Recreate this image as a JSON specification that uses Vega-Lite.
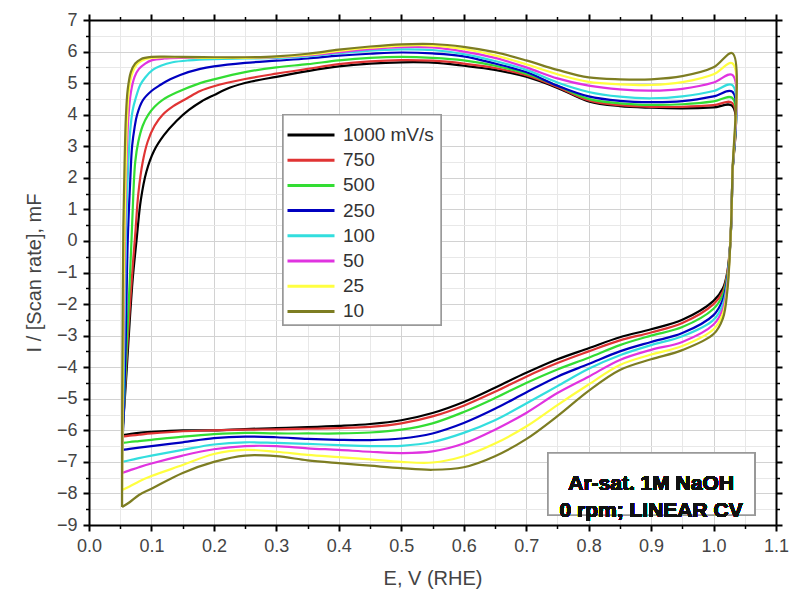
{
"$schema":"https://vega.github.io/schema/vega-lite/v6.json",
"width":687,"height":505,
"autosize":{"type":"none"},
"padding":{"left":89,"top":20,"right":16,"bottom":78},
"background":"white",
"config":{"view":{"stroke":null},"font":"Liberation Sans",
"legend":{"orient":"none","legendX":197,"legendY":107,"symbolType":"stroke","symbolSize":2209,"symbolStrokeWidth":3,"clipHeight":16,"rowPadding":6.2,"labelFontSize":19,"labelFont":"Liberation Sans","labelColor":"#333","labelOffset":7,"padding":0,"title":null}},
"datasets":{"cv":[
{"s":"1000 mV/s","E":0.053,"I":-6.15},{"s":"1000 mV/s","E":0.056,"I":-5.4},{"s":"1000 mV/s","E":0.06,"I":-4.2},{"s":"1000 mV/s","E":0.065,"I":-2.6},{"s":"1000 mV/s","E":0.07,"I":-1.2},{"s":"1000 mV/s","E":0.076,"I":0},{"s":"1000 mV/s","E":0.083,"I":1.3},{"s":"1000 mV/s","E":0.092,"I":2.2},{"s":"1000 mV/s","E":0.104,"I":2.85},{"s":"1000 mV/s","E":0.12,"I":3.35},{"s":"1000 mV/s","E":0.14,"I":3.8},{"s":"1000 mV/s","E":0.16,"I":4.15},{"s":"1000 mV/s","E":0.18,"I":4.42},{"s":"1000 mV/s","E":0.2,"I":4.62},{"s":"1000 mV/s","E":0.226,"I":4.86},{"s":"1000 mV/s","E":0.26,"I":5.05},{"s":"1000 mV/s","E":0.3,"I":5.2},{"s":"1000 mV/s","E":0.35,"I":5.38},{"s":"1000 mV/s","E":0.4,"I":5.53},{"s":"1000 mV/s","E":0.45,"I":5.62},{"s":"1000 mV/s","E":0.5,"I":5.66},{"s":"1000 mV/s","E":0.55,"I":5.65},{"s":"1000 mV/s","E":0.6,"I":5.55},{"s":"1000 mV/s","E":0.65,"I":5.42},{"s":"1000 mV/s","E":0.7,"I":5.2},{"s":"1000 mV/s","E":0.75,"I":4.85},{"s":"1000 mV/s","E":0.8,"I":4.42},{"s":"1000 mV/s","E":0.85,"I":4.27},{"s":"1000 mV/s","E":0.9,"I":4.22},{"s":"1000 mV/s","E":0.95,"I":4.2},{"s":"1000 mV/s","E":1.0,"I":4.23},{"s":"1000 mV/s","E":1.03,"I":4.28},{"s":"1000 mV/s","E":1.03,"I":2.0},{"s":"1000 mV/s","E":1.027,"I":0},{"s":"1000 mV/s","E":1.022,"I":-1.0},{"s":"1000 mV/s","E":1.015,"I":-1.5},{"s":"1000 mV/s","E":1.0,"I":-1.9},{"s":"1000 mV/s","E":0.95,"I":-2.5},{"s":"1000 mV/s","E":0.9,"I":-2.8},{"s":"1000 mV/s","E":0.85,"I":-3.05},{"s":"1000 mV/s","E":0.8,"I":-3.4},{"s":"1000 mV/s","E":0.75,"I":-3.75},{"s":"1000 mV/s","E":0.7,"I":-4.18},{"s":"1000 mV/s","E":0.65,"I":-4.65},{"s":"1000 mV/s","E":0.6,"I":-5.1},{"s":"1000 mV/s","E":0.55,"I":-5.45},{"s":"1000 mV/s","E":0.5,"I":-5.68},{"s":"1000 mV/s","E":0.45,"I":-5.8},{"s":"1000 mV/s","E":0.4,"I":-5.86},{"s":"1000 mV/s","E":0.35,"I":-5.9},{"s":"1000 mV/s","E":0.3,"I":-5.93},{"s":"1000 mV/s","E":0.25,"I":-5.96},{"s":"1000 mV/s","E":0.2,"I":-6.0},{"s":"1000 mV/s","E":0.15,"I":-6.0},{"s":"1000 mV/s","E":0.1,"I":-6.05},{"s":"1000 mV/s","E":0.08,"I":-6.08},{"s":"1000 mV/s","E":0.065,"I":-6.12},{"s":"1000 mV/s","E":0.053,"I":-6.15},
{"s":"750","E":0.053,"I":-6.2},{"s":"750","E":0.056,"I":-5.3},{"s":"750","E":0.06,"I":-3.8},{"s":"750","E":0.065,"I":-2.2},{"s":"750","E":0.07,"I":-0.8},{"s":"750","E":0.074,"I":0.2},{"s":"750","E":0.079,"I":1.5},{"s":"750","E":0.086,"I":2.5},{"s":"750","E":0.094,"I":3.15},{"s":"750","E":0.105,"I":3.65},{"s":"750","E":0.118,"I":4.0},{"s":"750","E":0.135,"I":4.27},{"s":"750","E":0.157,"I":4.52},{"s":"750","E":0.178,"I":4.75},{"s":"750","E":0.2,"I":4.9},{"s":"750","E":0.25,"I":5.13},{"s":"750","E":0.3,"I":5.3},{"s":"750","E":0.35,"I":5.45},{"s":"750","E":0.4,"I":5.6},{"s":"750","E":0.45,"I":5.69},{"s":"750","E":0.5,"I":5.73},{"s":"750","E":0.55,"I":5.71},{"s":"750","E":0.6,"I":5.62},{"s":"750","E":0.65,"I":5.48},{"s":"750","E":0.7,"I":5.25},{"s":"750","E":0.75,"I":4.88},{"s":"750","E":0.8,"I":4.45},{"s":"750","E":0.85,"I":4.3},{"s":"750","E":0.9,"I":4.25},{"s":"750","E":0.95,"I":4.25},{"s":"750","E":1.0,"I":4.3},{"s":"750","E":1.03,"I":4.37},{"s":"750","E":1.03,"I":2.0},{"s":"750","E":1.027,"I":0},{"s":"750","E":1.022,"I":-1.0},{"s":"750","E":1.015,"I":-1.6},{"s":"750","E":1.0,"I":-2.0},{"s":"750","E":0.95,"I":-2.6},{"s":"750","E":0.9,"I":-2.9},{"s":"750","E":0.85,"I":-3.15},{"s":"750","E":0.8,"I":-3.5},{"s":"750","E":0.75,"I":-3.87},{"s":"750","E":0.7,"I":-4.3},{"s":"750","E":0.65,"I":-4.78},{"s":"750","E":0.6,"I":-5.22},{"s":"750","E":0.55,"I":-5.56},{"s":"750","E":0.5,"I":-5.78},{"s":"750","E":0.45,"I":-5.89},{"s":"750","E":0.4,"I":-5.93},{"s":"750","E":0.35,"I":-5.95},{"s":"750","E":0.3,"I":-5.97},{"s":"750","E":0.25,"I":-5.98},{"s":"750","E":0.2,"I":-6.0},{"s":"750","E":0.15,"I":-6.03},{"s":"750","E":0.1,"I":-6.1},{"s":"750","E":0.08,"I":-6.14},{"s":"750","E":0.065,"I":-6.17},{"s":"750","E":0.053,"I":-6.2},
{"s":"500","E":0.053,"I":-6.4},{"s":"500","E":0.056,"I":-5.3},{"s":"500","E":0.06,"I":-3.5},{"s":"500","E":0.064,"I":-1.8},{"s":"500","E":0.068,"I":0},{"s":"500","E":0.071,"I":1.5},{"s":"500","E":0.074,"I":2.5},{"s":"500","E":0.079,"I":3.15},{"s":"500","E":0.086,"I":3.65},{"s":"500","E":0.095,"I":4.0},{"s":"500","E":0.105,"I":4.25},{"s":"500","E":0.118,"I":4.47},{"s":"500","E":0.14,"I":4.7},{"s":"500","E":0.178,"I":5.0},{"s":"500","E":0.2,"I":5.12},{"s":"500","E":0.25,"I":5.35},{"s":"500","E":0.3,"I":5.5},{"s":"500","E":0.35,"I":5.6},{"s":"500","E":0.4,"I":5.72},{"s":"500","E":0.45,"I":5.8},{"s":"500","E":0.5,"I":5.83},{"s":"500","E":0.55,"I":5.8},{"s":"500","E":0.6,"I":5.72},{"s":"500","E":0.65,"I":5.55},{"s":"500","E":0.7,"I":5.3},{"s":"500","E":0.75,"I":4.92},{"s":"500","E":0.8,"I":4.5},{"s":"500","E":0.85,"I":4.36},{"s":"500","E":0.9,"I":4.31},{"s":"500","E":0.95,"I":4.33},{"s":"500","E":1.0,"I":4.42},{"s":"500","E":1.03,"I":4.53},{"s":"500","E":1.03,"I":2.0},{"s":"500","E":1.027,"I":0},{"s":"500","E":1.022,"I":-1.1},{"s":"500","E":1.015,"I":-1.7},{"s":"500","E":1.0,"I":-2.15},{"s":"500","E":0.95,"I":-2.73},{"s":"500","E":0.9,"I":-3.0},{"s":"500","E":0.85,"I":-3.3},{"s":"500","E":0.8,"I":-3.7},{"s":"500","E":0.75,"I":-4.07},{"s":"500","E":0.7,"I":-4.5},{"s":"500","E":0.65,"I":-4.98},{"s":"500","E":0.6,"I":-5.42},{"s":"500","E":0.55,"I":-5.78},{"s":"500","E":0.5,"I":-5.98},{"s":"500","E":0.45,"I":-6.07},{"s":"500","E":0.4,"I":-6.1},{"s":"500","E":0.35,"I":-6.1},{"s":"500","E":0.3,"I":-6.1},{"s":"500","E":0.25,"I":-6.08},{"s":"500","E":0.2,"I":-6.12},{"s":"500","E":0.15,"I":-6.2},{"s":"500","E":0.1,"I":-6.3},{"s":"500","E":0.08,"I":-6.34},{"s":"500","E":0.065,"I":-6.37},{"s":"500","E":0.053,"I":-6.4},
{"s":"250","E":0.053,"I":-6.62},{"s":"250","E":0.056,"I":-5.3},{"s":"250","E":0.059,"I":-3.0},{"s":"250","E":0.062,"I":0},{"s":"250","E":0.066,"I":1.9},{"s":"250","E":0.069,"I":3.0},{"s":"250","E":0.073,"I":3.6},{"s":"250","E":0.077,"I":4.0},{"s":"250","E":0.086,"I":4.45},{"s":"250","E":0.1,"I":4.75},{"s":"250","E":0.114,"I":4.94},{"s":"250","E":0.13,"I":5.12},{"s":"250","E":0.146,"I":5.26},{"s":"250","E":0.178,"I":5.45},{"s":"250","E":0.2,"I":5.53},{"s":"250","E":0.25,"I":5.64},{"s":"250","E":0.3,"I":5.71},{"s":"250","E":0.35,"I":5.78},{"s":"250","E":0.4,"I":5.87},{"s":"250","E":0.45,"I":5.93},{"s":"250","E":0.5,"I":5.97},{"s":"250","E":0.55,"I":5.94},{"s":"250","E":0.6,"I":5.85},{"s":"250","E":0.65,"I":5.62},{"s":"250","E":0.7,"I":5.35},{"s":"250","E":0.75,"I":4.92},{"s":"250","E":0.8,"I":4.58},{"s":"250","E":0.85,"I":4.44},{"s":"250","E":0.9,"I":4.4},{"s":"250","E":0.95,"I":4.43},{"s":"250","E":1.0,"I":4.58},{"s":"250","E":1.03,"I":4.73},{"s":"250","E":1.03,"I":2.0},{"s":"250","E":1.027,"I":0},{"s":"250","E":1.022,"I":-1.2},{"s":"250","E":1.015,"I":-1.85},{"s":"250","E":1.0,"I":-2.35},{"s":"250","E":0.95,"I":-2.92},{"s":"250","E":0.9,"I":-3.2},{"s":"250","E":0.85,"I":-3.5},{"s":"250","E":0.8,"I":-3.9},{"s":"250","E":0.75,"I":-4.3},{"s":"250","E":0.7,"I":-4.8},{"s":"250","E":0.65,"I":-5.32},{"s":"250","E":0.6,"I":-5.77},{"s":"250","E":0.55,"I":-6.1},{"s":"250","E":0.5,"I":-6.26},{"s":"250","E":0.45,"I":-6.31},{"s":"250","E":0.4,"I":-6.3},{"s":"250","E":0.35,"I":-6.27},{"s":"250","E":0.3,"I":-6.22},{"s":"250","E":0.25,"I":-6.2},{"s":"250","E":0.2,"I":-6.25},{"s":"250","E":0.15,"I":-6.38},{"s":"250","E":0.1,"I":-6.5},{"s":"250","E":0.08,"I":-6.55},{"s":"250","E":0.065,"I":-6.59},{"s":"250","E":0.053,"I":-6.62},
{"s":"100","E":0.053,"I":-7.0},{"s":"100","E":0.055,"I":-5.0},{"s":"100","E":0.057,"I":-2.5},{"s":"100","E":0.059,"I":0},{"s":"100","E":0.062,"I":2.0},{"s":"100","E":0.066,"I":3.5},{"s":"100","E":0.07,"I":4.15},{"s":"100","E":0.074,"I":4.47},{"s":"100","E":0.082,"I":4.94},{"s":"100","E":0.09,"I":5.18},{"s":"100","E":0.102,"I":5.42},{"s":"100","E":0.115,"I":5.55},{"s":"100","E":0.134,"I":5.66},{"s":"100","E":0.16,"I":5.72},{"s":"100","E":0.2,"I":5.76},{"s":"100","E":0.25,"I":5.78},{"s":"100","E":0.3,"I":5.8},{"s":"100","E":0.35,"I":5.85},{"s":"100","E":0.4,"I":5.95},{"s":"100","E":0.45,"I":6.03},{"s":"100","E":0.5,"I":6.07},{"s":"100","E":0.55,"I":6.05},{"s":"100","E":0.6,"I":5.92},{"s":"100","E":0.65,"I":5.7},{"s":"100","E":0.7,"I":5.42},{"s":"100","E":0.75,"I":5.02},{"s":"100","E":0.8,"I":4.72},{"s":"100","E":0.85,"I":4.57},{"s":"100","E":0.9,"I":4.52},{"s":"100","E":0.95,"I":4.58},{"s":"100","E":1.0,"I":4.75},{"s":"100","E":1.03,"I":4.94},{"s":"100","E":1.03,"I":2.0},{"s":"100","E":1.027,"I":0},{"s":"100","E":1.022,"I":-1.3},{"s":"100","E":1.015,"I":-2.0},{"s":"100","E":1.0,"I":-2.5},{"s":"100","E":0.95,"I":-3.02},{"s":"100","E":0.9,"I":-3.3},{"s":"100","E":0.85,"I":-3.62},{"s":"100","E":0.8,"I":-4.05},{"s":"100","E":0.75,"I":-4.6},{"s":"100","E":0.7,"I":-5.15},{"s":"100","E":0.65,"I":-5.68},{"s":"100","E":0.6,"I":-6.08},{"s":"100","E":0.55,"I":-6.37},{"s":"100","E":0.5,"I":-6.49},{"s":"100","E":0.45,"I":-6.5},{"s":"100","E":0.4,"I":-6.47},{"s":"100","E":0.35,"I":-6.43},{"s":"100","E":0.3,"I":-6.4},{"s":"100","E":0.25,"I":-6.38},{"s":"100","E":0.2,"I":-6.45},{"s":"100","E":0.15,"I":-6.62},{"s":"100","E":0.1,"I":-6.8},{"s":"100","E":0.08,"I":-6.88},{"s":"100","E":0.065,"I":-6.95},{"s":"100","E":0.053,"I":-7.0},
{"s":"50","E":0.053,"I":-7.35},{"s":"50","E":0.054,"I":-5},{"s":"50","E":0.056,"I":-2},{"s":"50","E":0.058,"I":0.5},{"s":"50","E":0.06,"I":2.5},{"s":"50","E":0.063,"I":3.9},{"s":"50","E":0.067,"I":4.7},{"s":"50","E":0.073,"I":5.2},{"s":"50","E":0.08,"I":5.45},{"s":"50","E":0.09,"I":5.62},{"s":"50","E":0.1,"I":5.72},{"s":"50","E":0.12,"I":5.78},{"s":"50","E":0.15,"I":5.8},{"s":"50","E":0.2,"I":5.8},{"s":"50","E":0.25,"I":5.8},{"s":"50","E":0.3,"I":5.82},{"s":"50","E":0.35,"I":5.88},{"s":"50","E":0.4,"I":5.98},{"s":"50","E":0.45,"I":6.08},{"s":"50","E":0.5,"I":6.14},{"s":"50","E":0.55,"I":6.13},{"s":"50","E":0.6,"I":6.0},{"s":"50","E":0.65,"I":5.8},{"s":"50","E":0.7,"I":5.5},{"s":"50","E":0.75,"I":5.15},{"s":"50","E":0.8,"I":4.92},{"s":"50","E":0.85,"I":4.8},{"s":"50","E":0.9,"I":4.76},{"s":"50","E":0.95,"I":4.82},{"s":"50","E":1.0,"I":5.02},{"s":"50","E":1.03,"I":5.26},{"s":"50","E":1.03,"I":2.0},{"s":"50","E":1.027,"I":0},{"s":"50","E":1.022,"I":-1.4},{"s":"50","E":1.015,"I":-2.15},{"s":"50","E":1.0,"I":-2.65},{"s":"50","E":0.95,"I":-3.2},{"s":"50","E":0.9,"I":-3.45},{"s":"50","E":0.85,"I":-3.77},{"s":"50","E":0.8,"I":-4.3},{"s":"50","E":0.75,"I":-4.82},{"s":"50","E":0.7,"I":-5.45},{"s":"50","E":0.65,"I":-5.98},{"s":"50","E":0.6,"I":-6.42},{"s":"50","E":0.55,"I":-6.67},{"s":"50","E":0.5,"I":-6.72},{"s":"50","E":0.45,"I":-6.68},{"s":"50","E":0.4,"I":-6.62},{"s":"50","E":0.35,"I":-6.57},{"s":"50","E":0.3,"I":-6.5},{"s":"50","E":0.25,"I":-6.5},{"s":"50","E":0.2,"I":-6.6},{"s":"50","E":0.15,"I":-6.8},{"s":"50","E":0.1,"I":-7.05},{"s":"50","E":0.08,"I":-7.17},{"s":"50","E":0.065,"I":-7.27},{"s":"50","E":0.053,"I":-7.35},
{"s":"25","E":0.053,"I":-7.89},{"s":"25","E":0.054,"I":-5},{"s":"25","E":0.055,"I":-2},{"s":"25","E":0.057,"I":0.5},{"s":"25","E":0.059,"I":2.5},{"s":"25","E":0.061,"I":3.9},{"s":"25","E":0.064,"I":4.8},{"s":"25","E":0.069,"I":5.3},{"s":"25","E":0.076,"I":5.58},{"s":"25","E":0.085,"I":5.72},{"s":"25","E":0.1,"I":5.8},{"s":"25","E":0.12,"I":5.82},{"s":"25","E":0.15,"I":5.82},{"s":"25","E":0.2,"I":5.8},{"s":"25","E":0.25,"I":5.8},{"s":"25","E":0.3,"I":5.83},{"s":"25","E":0.35,"I":5.9},{"s":"25","E":0.4,"I":6.02},{"s":"25","E":0.45,"I":6.12},{"s":"25","E":0.5,"I":6.19},{"s":"25","E":0.55,"I":6.19},{"s":"25","E":0.6,"I":6.08},{"s":"25","E":0.65,"I":5.88},{"s":"25","E":0.7,"I":5.6},{"s":"25","E":0.75,"I":5.28},{"s":"25","E":0.8,"I":5.04},{"s":"25","E":0.85,"I":4.96},{"s":"25","E":0.9,"I":4.94},{"s":"25","E":0.95,"I":5.03},{"s":"25","E":1.0,"I":5.28},{"s":"25","E":1.03,"I":5.63},{"s":"25","E":1.03,"I":2.0},{"s":"25","E":1.027,"I":0},{"s":"25","E":1.022,"I":-1.5},{"s":"25","E":1.015,"I":-2.3},{"s":"25","E":1.0,"I":-2.8},{"s":"25","E":0.95,"I":-3.33},{"s":"25","E":0.9,"I":-3.6},{"s":"25","E":0.85,"I":-3.93},{"s":"25","E":0.8,"I":-4.55},{"s":"25","E":0.75,"I":-5.2},{"s":"25","E":0.7,"I":-5.88},{"s":"25","E":0.65,"I":-6.42},{"s":"25","E":0.6,"I":-6.82},{"s":"25","E":0.55,"I":-7.02},{"s":"25","E":0.5,"I":-7.0},{"s":"25","E":0.45,"I":-6.92},{"s":"25","E":0.4,"I":-6.85},{"s":"25","E":0.35,"I":-6.78},{"s":"25","E":0.3,"I":-6.68},{"s":"25","E":0.25,"I":-6.62},{"s":"25","E":0.2,"I":-6.75},{"s":"25","E":0.15,"I":-7.1},{"s":"25","E":0.1,"I":-7.45},{"s":"25","E":0.08,"I":-7.62},{"s":"25","E":0.065,"I":-7.78},{"s":"25","E":0.053,"I":-7.89},
{"s":"10","E":0.053,"I":-8.43},{"s":"10","E":0.0532,"I":-5},{"s":"10","E":0.054,"I":-2},{"s":"10","E":0.055,"I":0.5},{"s":"10","E":0.057,"I":2.5},{"s":"10","E":0.059,"I":3.9},{"s":"10","E":0.062,"I":4.8},{"s":"10","E":0.067,"I":5.35},{"s":"10","E":0.074,"I":5.62},{"s":"10","E":0.083,"I":5.76},{"s":"10","E":0.1,"I":5.83},{"s":"10","E":0.12,"I":5.84},{"s":"10","E":0.15,"I":5.83},{"s":"10","E":0.2,"I":5.82},{"s":"10","E":0.25,"I":5.82},{"s":"10","E":0.3,"I":5.85},{"s":"10","E":0.35,"I":5.93},{"s":"10","E":0.4,"I":6.06},{"s":"10","E":0.45,"I":6.16},{"s":"10","E":0.5,"I":6.23},{"s":"10","E":0.55,"I":6.24},{"s":"10","E":0.6,"I":6.15},{"s":"10","E":0.65,"I":5.98},{"s":"10","E":0.7,"I":5.72},{"s":"10","E":0.75,"I":5.42},{"s":"10","E":0.8,"I":5.18},{"s":"10","E":0.85,"I":5.12},{"s":"10","E":0.9,"I":5.12},{"s":"10","E":0.95,"I":5.22},{"s":"10","E":1.0,"I":5.5},{"s":"10","E":1.03,"I":5.95},{"s":"10","E":1.03,"I":2.0},{"s":"10","E":1.027,"I":0},{"s":"10","E":1.022,"I":-1.6},{"s":"10","E":1.015,"I":-2.45},{"s":"10","E":1.0,"I":-2.95},{"s":"10","E":0.95,"I":-3.46},{"s":"10","E":0.9,"I":-3.75},{"s":"10","E":0.85,"I":-4.09},{"s":"10","E":0.8,"I":-4.75},{"s":"10","E":0.75,"I":-5.55},{"s":"10","E":0.7,"I":-6.28},{"s":"10","E":0.65,"I":-6.82},{"s":"10","E":0.6,"I":-7.17},{"s":"10","E":0.55,"I":-7.25},{"s":"10","E":0.5,"I":-7.2},{"s":"10","E":0.45,"I":-7.12},{"s":"10","E":0.4,"I":-7.04},{"s":"10","E":0.35,"I":-6.95},{"s":"10","E":0.3,"I":-6.82},{"s":"10","E":0.25,"I":-6.8},{"s":"10","E":0.2,"I":-7.0},{"s":"10","E":0.15,"I":-7.35},{"s":"10","E":0.1,"I":-7.85},{"s":"10","E":0.08,"I":-8.05},{"s":"10","E":0.065,"I":-8.28},{"s":"10","E":0.053,"I":-8.43}
]},
"data":{"name":"cv"},
"resolve":{"axis":{"x":"independent","y":"independent"}},
"layer":[
{"mark":{"type":"point","opacity":0},
 "encoding":{
  "x":{"field":"E","type":"quantitative","scale":{"domain":[0,1.1],"nice":false,"zero":false},
   "axis":{"orient":"bottom","values":[0.05,0.15,0.25,0.35,0.45,0.55,0.65,0.75,0.85,0.95,1.05],"labels":false,"title":null,"domain":false,"grid":true,"gridColor":"#e8e8e8","gridWidth":1,"tickSize":3.5,"tickWidth":1.5,"tickColor":"#000"}},
  "y":{"field":"I","type":"quantitative","scale":{"domain":[-9,7],"nice":false,"zero":false},
   "axis":{"orient":"left","values":[-8.5,-7.5,-6.5,-5.5,-4.5,-3.5,-2.5,-1.5,-0.5,0.5,1.5,2.5,3.5,4.5,5.5,6.5],"labels":false,"title":null,"domain":false,"grid":true,"gridColor":"#e8e8e8","gridWidth":1,"tickSize":3.5,"tickWidth":1.5,"tickColor":"#000"}}}},
{"mark":{"type":"point","opacity":0},
 "encoding":{
  "x":{"field":"E","type":"quantitative",
   "axis":{"orient":"top","values":[0.05,0.15,0.25,0.35,0.45,0.55,0.65,0.75,0.85,0.95,1.05],"labels":false,"title":null,"domain":false,"grid":false,"tickSize":3.5,"tickWidth":1.5,"tickColor":"#000"}},
  "y":{"field":"I","type":"quantitative",
   "axis":{"orient":"right","values":[-8.5,-7.5,-6.5,-5.5,-4.5,-3.5,-2.5,-1.5,-0.5,0.5,1.5,2.5,3.5,4.5,5.5,6.5],"labels":false,"title":null,"domain":false,"grid":false,"tickSize":3.5,"tickWidth":1.5,"tickColor":"#000"}}}},
{"mark":{"type":"point","opacity":0},
 "encoding":{
  "x":{"field":"E","type":"quantitative",
   "axis":{"orient":"top","values":[0,0.1,0.2,0.3,0.4,0.5,0.6,0.7,0.8,0.9,1.0,1.1],"labels":false,"title":null,"domain":true,"domainColor":"#000","domainWidth":2,"grid":false,"tickSize":6,"tickWidth":2,"tickColor":"#000"}},
  "y":{"field":"I","type":"quantitative",
   "axis":{"orient":"right","values":[-9,-8,-7,-6,-5,-4,-3,-2,-1,0,1,2,3,4,5,6,7],"labels":false,"title":null,"domain":true,"domainColor":"#000","domainWidth":2,"grid":false,"tickSize":6,"tickWidth":2,"tickColor":"#000"}}}},
{"mark":{"type":"line","strokeWidth":2.2,"interpolate":"catmull-rom"},
 "encoding":{
  "x":{"field":"E","type":"quantitative",
   "axis":{"orient":"bottom","values":[0,0.1,0.2,0.3,0.4,0.5,0.6,0.7,0.8,0.9,1.0,1.1],"format":".1f","title":"E, V (RHE)","grid":true,"gridColor":"#d2d2d2","gridWidth":1,"tickSize":6,"tickWidth":2,"tickColor":"#000","domainColor":"#000","domainWidth":2,"labelFontSize":18,"labelColor":"#444","labelPadding":6,"labelFlush":false,"labelFont":"Liberation Sans","titleFont":"Liberation Sans","titleFontSize":20,"titleFontWeight":"normal","titleColor":"#444","titlePadding":13}},
  "y":{"field":"I","type":"quantitative",
   "axis":{"orient":"left","values":[-9,-8,-7,-6,-5,-4,-3,-2,-1,0,1,2,3,4,5,6,7],"format":"d","title":"I / [Scan rate], mF","grid":true,"gridColor":"#d2d2d2","gridWidth":1,"tickSize":6,"tickWidth":2,"tickColor":"#000","domainColor":"#000","domainWidth":2,"labelFontSize":18,"labelColor":"#444","labelPadding":6,"labelFlush":false,"labelFont":"Liberation Sans","titleFont":"Liberation Sans","titleFontSize":20,"titleFontWeight":"normal","titleColor":"#444","titlePadding":12}},
  "color":{"field":"s","type":"nominal","sort":null,
   "scale":{"domain":["1000 mV/s","750","500","250","100","50","25","10"],"range":["#000000","#e03434","#33dd33","#0000c0","#33dede","#e033e0","#ffff40","#7d7d22"]}},
  "order":{"value":null}}},
{"mark":{"type":"rect","fill":"white","stroke":"#999999","strokeWidth":1.5},
 "encoding":{
  "x":{"datum":0.3106,"type":"quantitative","axis":null},"x2":{"datum":0.5637},
  "y":{"datum":4.0,"type":"quantitative","axis":null},"y2":{"datum":-2.66}}},
{"mark":{"type":"rect","fill":"white","stroke":"#999999","strokeWidth":1.5},
 "encoding":{
  "x":{"datum":0.735,"type":"quantitative","axis":null},"x2":{"datum":1.066},
  "y":{"datum":-6.72,"type":"quantitative","axis":null},"y2":{"datum":-8.68}}},
{"mark":{"type":"text","font":"Liberation Sans","fontWeight":"bold","fontSize":21,"fill":"#111111","stroke":null,"align":"center","baseline":"middle","lineHeight":27},
 "encoding":{
  "x":{"datum":0.9,"type":"quantitative","axis":null},
  "y":{"datum":-7.69,"type":"quantitative","axis":null},
  "text":{"value":["Ar-sat. 1M NaOH","0 rpm; LINEAR CV"]}}}
]
}
